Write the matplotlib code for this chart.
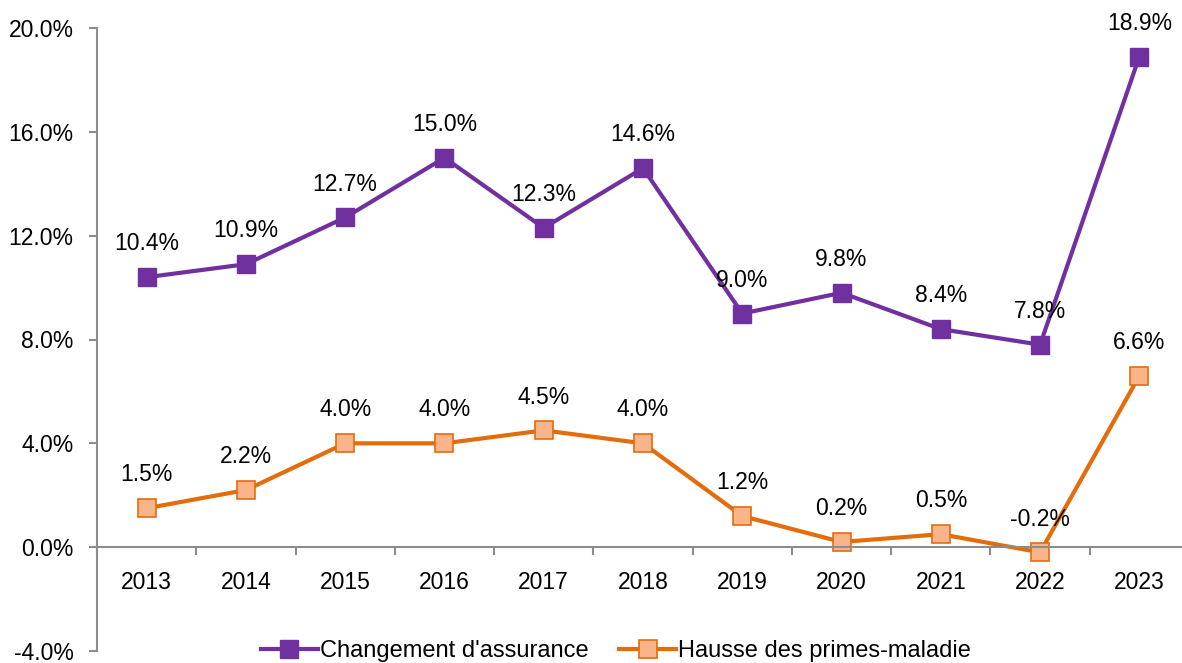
import numpy as np
import matplotlib.pyplot as plt
from matplotlib.ticker import FuncFormatter, FixedLocator

plt.rcParams['font.family'] = ['Liberation Sans', 'DejaVu Sans']

# données | data
years = ['2013', '2014', '2015', '2016', '2017', '2018', '2019', '2020', '2021', '2022', '2023']
changement = [10.4, 10.9, 12.7, 15.0, 12.3, 14.6, 9.0, 9.8, 8.4, 7.8, 18.9]
hausse = [1.5, 2.2, 4.0, 4.0, 4.5, 4.0, 1.2, 0.2, 0.5, -0.2, 6.6]
series_names = ["Changement d'assurance", "Hausse des primes-maladie"]

purple = '#7030A0'
orange = '#E46C0A'
orange_fill = '#F9B48A'
gray = '#8C8C8C'

fig = plt.figure(figsize=(11.82, 6.63), dpi=100)
ax = fig.add_axes([97 / 1182, 12 / 663, 1092 / 1182, 623 / 663])

x = np.arange(len(years))
ax.plot(x, changement, color=purple, lw=3, marker='s', ms=13,
        mfc=purple, mec=purple, label=series_names[0])
ax.plot(x, hausse, color=orange, lw=3, marker='s', ms=13,
        mfc=orange_fill, mec=orange, mew=1.2, label=series_names[1])

# étiquettes de données | data labels
for xi, v in zip(x, changement):
    ax.annotate(f'{v:.1f}%', (xi, v), xytext=(0, 24), textcoords='offset points',
                ha='center', va='center', fontsize=16.5)
for xi, v in zip(x, hausse):
    ax.annotate(f'{v:.1f}%', (xi, v), xytext=(0, 24), textcoords='offset points',
                ha='center', va='center', fontsize=16.5)

ax.set_xlim(-0.5, len(years) - 0.5)
ax.set_ylim(-4, 20)
ax.set_yticks(np.arange(-4, 21, 4))
ax.yaxis.set_major_formatter(FuncFormatter(lambda v, p: f'{v:.1f}%'))

ax.set_xticks(x)
ax.set_xticklabels(years)
ax.xaxis.set_minor_locator(FixedLocator(np.arange(-0.5, len(years), 1.0)))

for s in ['top', 'right']:
    ax.spines[s].set_visible(False)
ax.spines['bottom'].set_position(('data', 0))
ax.spines['bottom'].set_color(gray)
ax.spines['left'].set_color(gray)
ax.spines['bottom'].set_linewidth(1.5)
ax.spines['left'].set_linewidth(1.5)

ax.tick_params(axis='y', direction='out', length=6, width=1.5, color=gray,
               labelsize=16.5, pad=11)
ax.tick_params(axis='x', which='major', length=0, labelsize=16.5, pad=17)
ax.tick_params(axis='x', which='minor', direction='out', length=6, width=1.5, color=gray)

ax.legend(loc='center', bbox_to_anchor=(616 / 1182, 12 / 663), bbox_transform=fig.transFigure,
          ncol=2, frameon=False, fontsize=17, handlelength=2.4, handletextpad=0.1,
          columnspacing=1.3, borderpad=0)

fig.savefig('out.png', dpi=100)
